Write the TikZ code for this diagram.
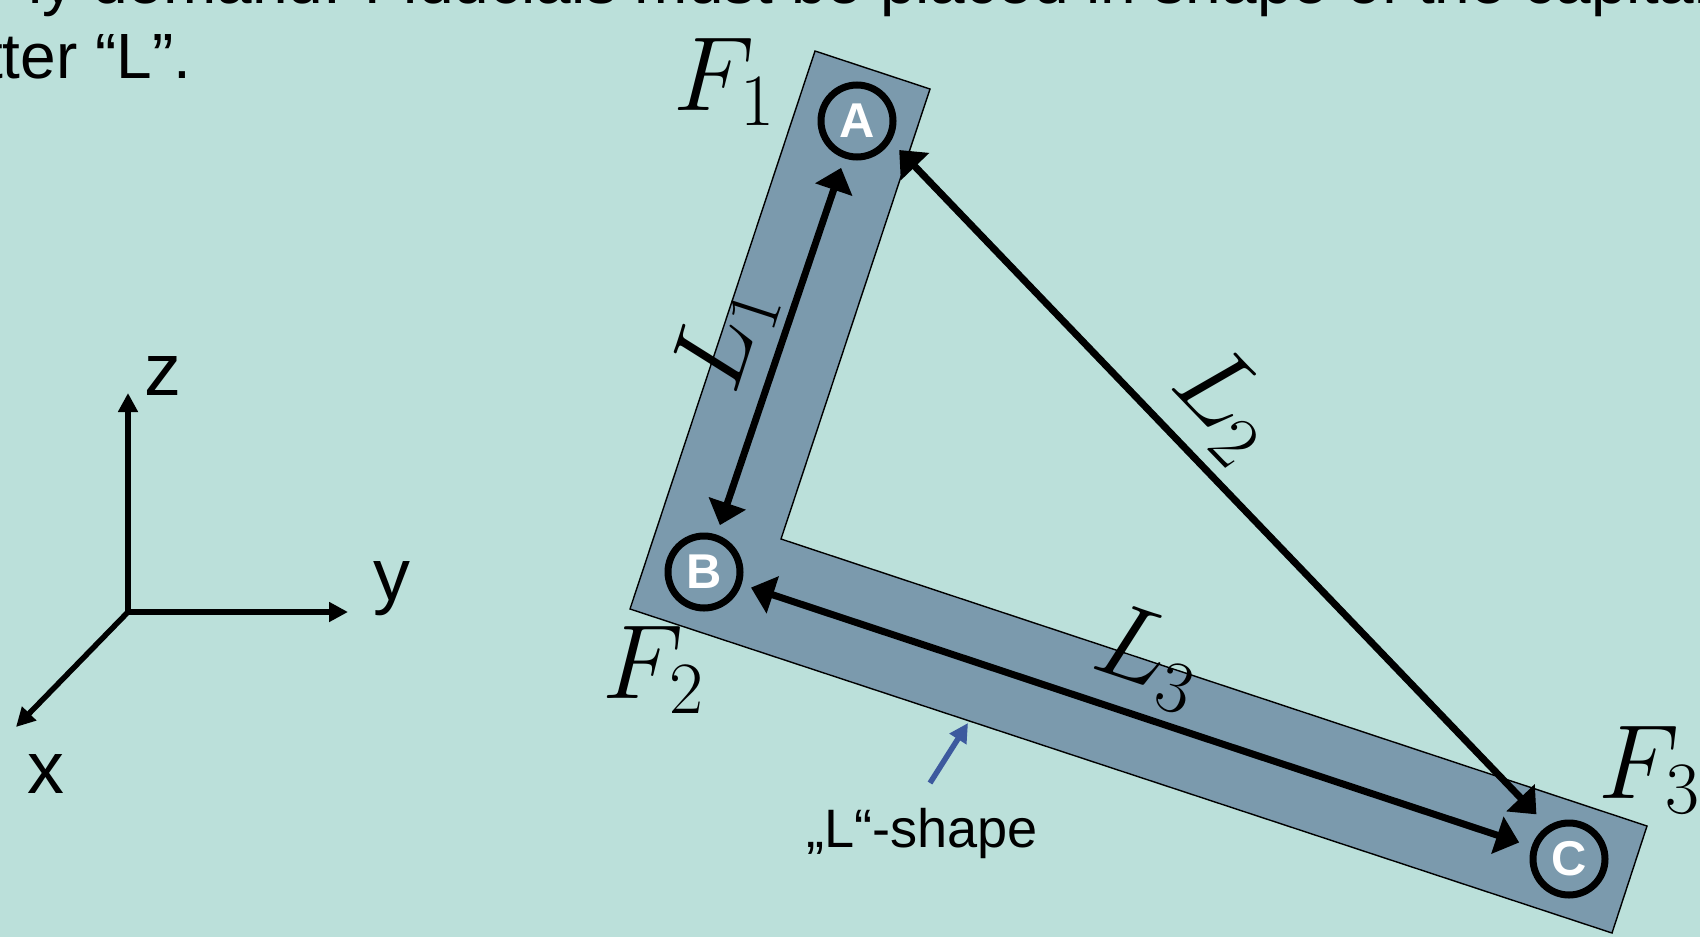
\documentclass[tikz,border=0pt]{standalone}
\usepackage{fix-cm}
\usepackage{fontspec}
\setmainfont{Liberation Sans}
\usetikzlibrary{arrows.meta,positioning}
\definecolor{bgteal}{RGB}{187,224,218}
\definecolor{lfill}{RGB}{123,154,173}
\definecolor{pointblue}{RGB}{61,90,158}
\tikzset{every picture/.style={line width=0.75pt}}

\begin{document}
\begin{tikzpicture}[
    fid/.style={circle, draw=black, line width=0.07cm, minimum size=0.72cm, inner sep=0pt,
        text=white, font=\fontsize{13.9}{14}\selectfont\bfseries},
    dim/.style={{Triangle[length=0.23cm,width=0.38cm]}-{Triangle[length=0.23cm,width=0.38cm]}, line width=0.07cm},
    axis/.style={-{Triangle[length=0.19cm,width=0.19cm]}, line width=0.055cm},
    pointer/.style={-{Triangle[length=0.19cm,width=0.19cm]}, line width=0.055cm, draw=pointblue},
    flabel/.style={anchor=base west, inner sep=0pt, font=\fontsize{30}{36}\selectfont},
    llabel/.style={inner sep=0pt, font=\fontsize{30}{36}\selectfont},
    axlabel/.style={anchor=base west, inner sep=0pt, font=\fontsize{21}{25}\selectfont},
    toptext/.style={anchor=base west, inner sep=0pt, font=\fontsize{18.2}{21}\selectfont}
]
    % 画布与背景
    \useasboundingbox (0,0) rectangle (17,9.37);
    \clip (0,0) rectangle (17,9.37);
    \fill[bgteal] (0,0) rectangle (17,9.37);

    % 上方文字（被截断）
    \node[toptext] (line1) at (0.27,9.34) {ly demand: Fiducials must be placed in shape of the capital};
    \node[toptext] (line2) at (-0.66,8.59) {letter “L”.};

    % 坐标轴
    \coordinate (orig) at (1.28,3.25);
    \coordinate (zend) at (1.28,5.44);
    \coordinate (yend) at (3.48,3.25);
    \coordinate (xend) at (0.16,2.10);
    \draw[axis] (orig) -- (zend);
    \draw[axis] (orig) -- (yend);
    \draw[axis] (orig) -- (xend);
    \node[axlabel] (zlab) at (1.43,5.42) {z};
    \node[axlabel] (ylab) at (3.72,3.37) {y};
    \node[axlabel] (xlab) at (0.26,1.44) {x};

    % L 形底板
    \filldraw[fill=lfill, draw=black, line width=0.4pt]
        (8.15,8.86) -- (9.30,8.48) -- (7.81,3.98) -- (16.47,1.11)
        -- (16.12,0.04) -- (6.30,3.28) -- cycle;

    % 三个标记点
    \node[fid] (A) at (8.57,8.16) {A};
    \node[fid] (B) at (7.04,3.65) {B};
    \node[fid] (C) at (15.69,0.78) {C};

    % 距离箭头
    \draw[dim, shorten <=0.1cm, shorten >=0.1cm] (A) -- (B);
    \draw[dim, shorten <=0.12cm, shorten >=0.16cm] (A.-31) -- (C.123);
    \draw[dim, shorten <=0.1cm, shorten >=0.13cm] (B) -- (C);

    % 距离与力的标注
    \node[llabel, rotate=72] (lab1) at (7.25,6.00) {$L_1$};
    \node[llabel, rotate=-46] (lab2) at (12.25,5.32) {$L_2$};
    \node[llabel, rotate=-18.5] (lab3) at (11.49,2.79) {$L_3$};
    \node[flabel] (f1) at (6.72,8.27) {$F_1$};
    \node[flabel] (f2) at (6.01,2.39) {$F_2$};
    \node[flabel] (f3) at (15.97,1.39) {$F_3$};

    % 形状说明
    \node[anchor=base, inner sep=0pt, font=\fontsize{15.4}{18}\selectfont] (shapelab) at (9.22,0.90) {„L“-shape};
    \coordinate (ptail) at (9.30,1.54);
    \coordinate (phead) at (9.68,2.14);
    \draw[pointer] (ptail) -- (phead);
\end{tikzpicture}
\end{document}
